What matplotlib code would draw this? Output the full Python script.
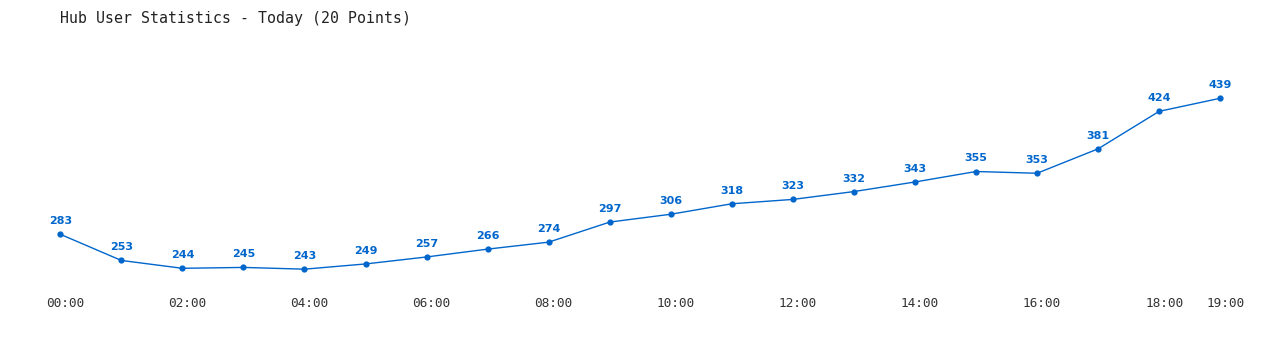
import matplotlib
matplotlib.use("Agg")
import matplotlib.pyplot as plt

hours = ["00:00", "01:00", "02:00", "03:00", "04:00", "05:00", "06:00", "07:00",
         "08:00", "09:00", "10:00", "11:00", "12:00", "13:00", "14:00", "15:00",
         "16:00", "17:00", "18:00", "19:00"]
users = [283, 253, 244, 245, 243, 249, 257, 266, 274, 297, 306, 318, 323, 332,
         343, 355, 353, 381, 424, 439]
tick_labels = ["00:00", "02:00", "04:00", "06:00", "08:00", "10:00", "12:00",
               "14:00", "16:00", "18:00", "19:00"]
title = "Hub User Statistics - Today (20 Points)"

color = "#0066cc"
fig = plt.figure(figsize=(12.8, 3.5), dpi=100)
ax = fig.add_axes([0, 0, 1, 1])
ax.set_axis_off()
x = list(range(len(users)))
ax.plot(x, users, color=color, lw=1.0, marker="o", markersize=4.5,
        markeredgewidth=0)
ax.set_xlim(-0.988, 19.98)
ax.set_ylim(150.3, 551.7)

for xi, v in zip(x, users):
    ax.annotate(str(v), (xi, v), xytext=(0, 9.4), textcoords="offset points",
                ha="center", va="center", fontsize=8, fontweight="bold",
                color=color, family="DejaVu Sans")

for lab in tick_labels:
    xi = hours.index(lab)
    ax.annotate(lab, (xi, 0.134), xycoords=("data", "axes fraction"),
                xytext=(3.6, 0), textcoords="offset points",
                ha="center", va="center", fontsize=9.2, color="#333333",
                family="DejaVu Sans Mono")

fig.text(60 / 1280, 1 - 18 / 350, title, ha="left", va="center",
         fontsize=10.7, color="#222222", family="DejaVu Sans Mono")

fig.savefig("out.png", dpi=100)
